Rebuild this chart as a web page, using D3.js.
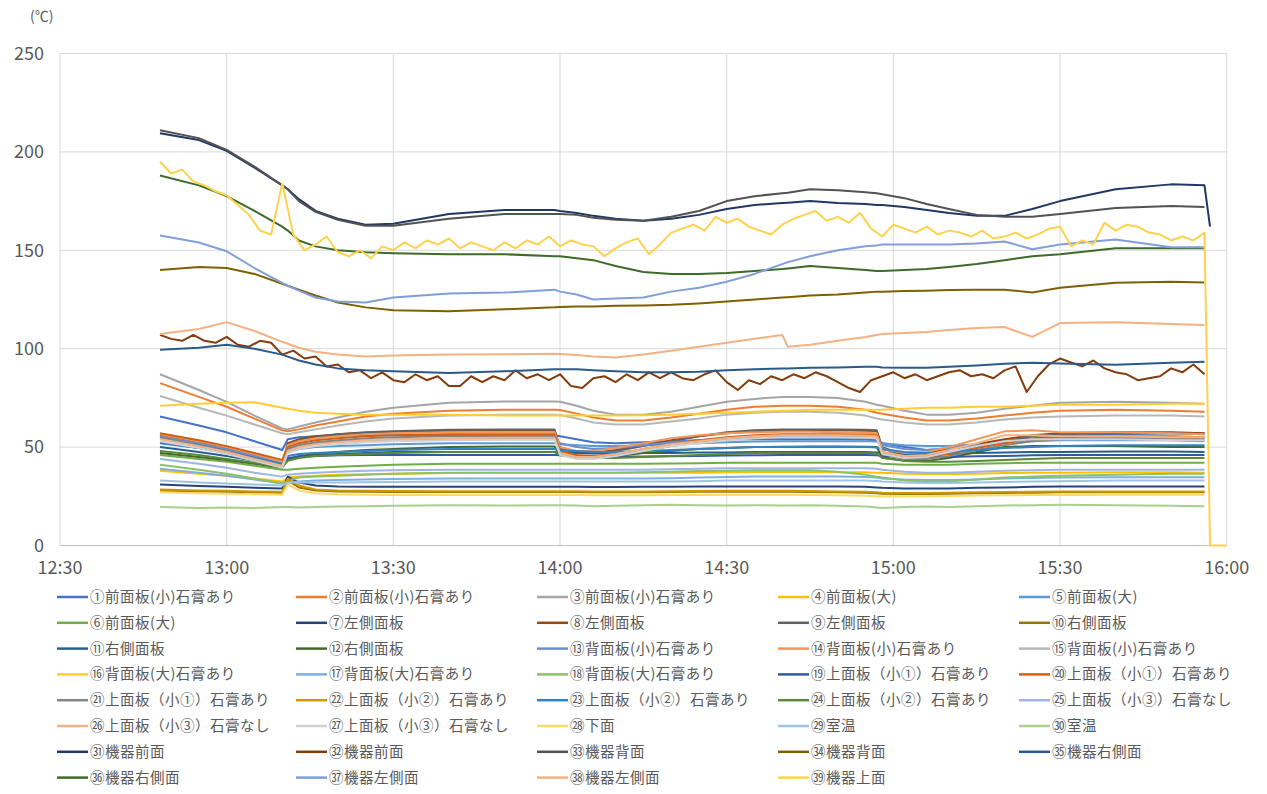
<!DOCTYPE html>
<html><head><meta charset="utf-8">
<script src="https://cdn.jsdelivr.net/npm/d3@7"></script>
<style>
body{margin:0;background:#fff;}
text{font-family:"Noto Sans CJK JP","Noto Sans",sans-serif;}
</style>
</head><body>
<svg id="chart" width="1267" height="794"></svg>
<script>
// ---------- DATA ----------
const coarseTimes = ["12:48","12:55","13:00","13:05","13:10","13:11","13:13","13:16","13:20","13:25","13:30","13:40","13:50","13:59","14:00","14:03","14:06","14:10","14:15","14:20","14:25","14:30","14:35","14:40","14:41","14:45","14:50","14:55","14:57","14:58","15:02","15:06","15:10","15:15","15:20","15:25","15:30","15:40","15:50","15:56","15:57"];
const fineTimes = ["12:48","12:50","12:52","12:54","12:56","12:58",
"13:00","13:02","13:04","13:06","13:08","13:10","13:12","13:14","13:16","13:18","13:20","13:22","13:24","13:26","13:28","13:30","13:32","13:34","13:36","13:38","13:40","13:42","13:44","13:46","13:48","13:50","13:52","13:54","13:56","13:58",
"14:00","14:02","14:04","14:06","14:08","14:10","14:12","14:14","14:16","14:18","14:20","14:22","14:24","14:26","14:28","14:30","14:32","14:34","14:36","14:38","14:40","14:42","14:44","14:46","14:48","14:50","14:52","14:54","14:56","14:58",
"15:00","15:02","15:04","15:06","15:08","15:10","15:12","15:14","15:16","15:18","15:20","15:22","15:24","15:26","15:28","15:30","15:32","15:34","15:36","15:38","15:40","15:42","15:44","15:46","15:48","15:50","15:52","15:54","15:56"];
const fineTail = ["15:57","16:00"];

const xTickLabels = ["12:30","13:00","13:30","14:00","14:30","15:00","15:30","16:00"];
const yTickValues = [0,50,100,150,200,250];

const seriesNames = ["①前面板(小)石膏あり","②前面板(小)石膏あり","③前面板(小)石膏あり","④前面板(大)","⑤前面板(大)",
"⑥前面板(大)","⑦左側面板","⑧左側面板","⑨左側面板","⑩右側面板",
"⑪右側面板","⑫右側面板","⑬背面板(小)石膏あり","⑭背面板(小)石膏あり","⑮背面板(小)石膏あり",
"⑯背面板(大)石膏あり","⑰背面板(大)石膏あり","⑱背面板(大)石膏あり","⑲上面板（小①）石膏あり","⑳上面板（小①）石膏あり",
"㉑上面板（小①）石膏あり","㉒上面板（小②）石膏あり","㉓上面板（小②）石膏あり","㉔上面板（小②）石膏あり","㉕上面板（小③）石膏なし",
"㉖上面板（小③）石膏なし","㉗上面板（小③）石膏なし","㉘下面","㉙室温","㉚室温",
"㉛機器前面","㉜機器前面","㉝機器背面","㉞機器背面","㉟機器右側面",
"㊱機器右側面","㊲機器左側面","㊳機器左側面","㊴機器上面"];

const seriesColors = ["#4472C4","#ED7D31","#A5A5A5","#FFC000","#5B9BD5",
"#70AD47","#264478","#9E480E","#636363","#997300",
"#255E91","#43682B","#698ED0","#F1975A","#B7B7B7",
"#FFCD33","#7CAFDD","#8CC168","#335AA1","#D26012",
"#848484","#CC9A00","#3282C8","#5A8A39","#9DB5E3",
"#F4B183","#D0D0D0","#FFD966","#9DC3E6","#A9D18E",
"#203864","#843C0C","#525252","#7F6000","#2A5A8A",
"#3E6B2A","#809FDA","#F4B183","#FFD24D"];

const s01 = [65.5,61,57.5,53,48.5,54,55,55.5,56,56,56,56,56,56,55.5,54,52.5,52,52.5,53,53.5,54,54,54,54,54,54,53.8,53.5,52,50,48.5,49,51,53,54.5,55.5,56.5,57,57];
const s02 = [82.5,75.5,70.5,64.5,58.5,58,59,61,63,65.5,67,68.5,69,69,68.8,67,65,63.5,63.5,65,67,69,70.5,71,71,71,70.5,69,67.5,67,65,63.5,63.5,64.5,66,67.5,68.5,69,68.5,68];
const s03 = [87,79,73,66,59.5,59,60.5,62.5,65,68,70,72.5,73.2,73.2,73,71,68.5,66.5,66.5,68,70.5,73,74.5,75.5,75.5,75.5,75,73,71.5,71,68.5,66.5,66.5,67.5,69.5,71,72.5,73,72.5,72];
const s04 = [38,36.5,35.5,34,32.5,34.5,35,35.5,36,36.2,36.5,36.8,37,37,37,37,37,37,37,37,37,37.2,37.3,37.3,37.3,37.3,37.2,37.2,37,37,36.5,36.3,36.3,36.5,36.8,37,37,37.2,37.2,37];
const s05 = [56,52.5,49.5,46,42.5,47.5,49,50,50.5,51,51.5,52,52,52,51.5,51,50.5,50.5,51,51.5,52,52.5,52.8,53,53,53,53,53,52.8,52,51,50.5,50.5,51.5,52.5,53,53.5,53.5,53.5,53];
const s06 = [46,44,42.5,40.5,38.5,38.5,39,39.5,40,40.5,41,41.5,41.5,41.5,41.5,41.5,41.5,41.5,41.5,41.7,41.8,42,42,42,42,42,42,42,42,41.5,41,41,41,41.5,41.8,42,42,42,42,42];
const s07 = [31,30.2,29.8,29.3,29,35,32,30.5,30,29.8,29.8,29.8,29.8,29.8,29.8,29.8,29.7,29.7,29.8,29.8,30,30,30,30,30,30,30,29.8,29.5,29.3,29,29,29,29.3,29.5,29.8,30,30,30,30];
const s08 = [56,52,49,45,41,52,54,55.5,56.5,57.3,57.8,58.3,58.5,58.5,49,47,47,48.5,51,53.5,55.5,57,58,58.5,58.5,58.5,58.5,58.3,58.2,49,46.5,47,49,51.5,54,56,57,57.5,57.5,57];
const s09 = [55,51.5,48.5,45,41,51,53.5,55,56.5,57.5,58,58.8,59,59,50,47.5,47,48,50.5,53,55.5,57.5,58.5,59,59,59,59,58.8,58.5,50,46,45.5,47,50,53,55.5,56.5,57,57,56.5];
const s10 = [28,27.5,27.3,27,26.8,33,29.5,28,27.5,27.3,27.2,27.2,27.2,27.2,27.2,27.2,27,27,27,27.2,27.3,27.3,27.3,27.3,27.3,27.2,27,26.8,26.5,26.3,26.2,26.2,26.3,26.5,26.7,26.8,27,27,27,27];
const s11 = [50,47.5,45.5,43,40.5,44,45,46,46.5,47,47.5,47.5,47.5,47.5,47.3,47,46.8,46.8,47,47,47.2,47.3,47.5,47.5,47.5,47.5,47.5,47.5,47.3,47,46.5,46.5,46.5,47,47.3,47.5,47.5,47.8,47.8,47.5];
const s12 = [47,45,43.5,41.5,39.5,44,45.5,46.5,47.5,48.5,49,50,50.3,50.3,46,44.5,44.5,45.5,47,48,49,49.5,50,50.2,50.2,50.3,50.3,50.2,50,45,43,43,44.5,47.5,50,50.5,50.5,50.5,50,50];
const s13 = [55.5,52,49,45.5,42,49,51,52,53,53.5,54,54.3,54.5,54.5,52,50,49,49.5,51,52.5,53.5,54,54.5,55,55,55,55,54.8,54.5,51,49,48.5,49.5,51,52.5,53.5,54,54.5,54.5,54];
const s14 = [56.5,53,50,46.5,42.5,51,53,54.5,55.5,56.5,57,57.5,57.7,57.7,50,48,48,49.5,52,54.5,56,57,57.5,57.8,57.8,57.8,57.5,57.3,57,49,47,47.5,50,54,58,58.5,57.5,57.5,57,56.5];
const s15 = [76,70,66,61.5,57,56.5,57.5,59,61,63,64.5,66,66.5,66.5,66.3,64.5,62.5,61.5,61.5,63,64.5,66.5,67.5,68,68,68,67.5,66,64.5,64,62.5,61.5,61.5,62.5,64,65,65.5,66,66,65.5];
const s16 = [71,72,72.5,72.8,70,69.5,68.5,67.5,67,66.5,66.5,66.5,66,66,66,66,66,66,66.2,66.5,67,67.5,68,68.5,68.5,69,69,69,69,69,69.5,70,70,70.5,70.5,71,71.5,71.5,72,72];
const s17 = [39,37,35.5,33.5,31.5,32,32.5,33,33.3,33.5,33.8,34,34,34,34,34,34,34,34,34.2,34.5,34.8,35,35,35,35,35,34.8,34.5,34,33.5,33.3,33.3,33.5,34,34.3,34.5,34.7,34.7,34.7];
const s18 = [41,38.5,36.5,34,31.5,33,34.5,35,35.5,36,36.5,37,37,37,37,37,37,37,37.2,37.5,37.8,38,38.2,38.3,38.3,38.3,37.5,36,35,34.5,33,32.5,32.5,33.5,34.5,35,35.5,36,36.5,36.5];
const s19 = [52.5,49.5,47,44,41,44.5,45,45.5,45.8,46,46,46,46,46,45.8,45.5,45.3,45.2,45.2,45.3,45.5,45.7,45.8,46,46,46,46,46,45.8,45.5,45,45,45,45.3,45.5,45.8,46,46,46,46];
const s20 = [57,53.5,50.5,47,43.5,50,52,53.5,54.5,55.5,56,56.5,56.5,56.5,48,46,45.5,46.5,49,51.5,53.5,55,56,56.5,56.5,56.5,56.5,56.3,56,47.5,45,45,46.5,49.5,52,54,55,55.5,55.5,55];
const s21 = [55,51,48,44,40,49,51,52.5,53.5,54.5,55,55.5,55.7,55.7,47,45,44.5,45.5,48,50.5,52.5,54,55,55.5,55.5,55.5,55.5,55.3,55,46.5,44,44,45.5,48.5,51,53,54,54.5,54.5,54];
const s22 = [28.5,28,27.8,27.5,27.3,34,30.5,28.5,28,27.8,27.7,27.6,27.6,27.6,27.6,27.6,27.5,27.5,27.5,27.6,27.7,27.8,27.8,27.8,27.8,27.7,27.5,27.3,27,26.8,26.7,26.7,26.8,27,27.2,27.3,27.5,27.5,27.5,27.5];
const s23 = [52,49.5,47,44.5,41.5,45.5,46.5,47,47.5,48,48.5,49,49,49,48.5,48,47.5,47.5,48,48.5,49,49.5,50,50,50,50,50,50,49.8,49,47.5,47,47.5,48.5,49.5,50,50.5,51,51,51];
const s24 = [48,46,44,42,40,43,44.5,45.5,46,46.5,47,47.5,47.5,47.5,46,45,44.5,44.5,45,45.5,46,46.5,47,47,47,47,47,47,46.8,44.5,43,42.5,42.5,43,43.5,44,44.5,44.5,44.5,44.5];
const s25 = [44,41.5,39.5,37,35,36,36.5,37,37.5,38,38.3,38.5,38.5,38.5,38.5,38.5,38.5,38.5,38.5,38.7,39,39.2,39.3,39.3,39.3,39.3,39.3,39.2,39,38.5,37.5,37,37,37.5,38,38.3,38.5,38.5,38.5,38.5];
const s26 = [54,50.5,47.5,44,40.5,48,50,51.5,52.5,53.5,54,54.5,54.7,54.7,47,45,45,46.5,49,51.5,53,54.5,55.5,56,56,56,56,55.8,55.5,47.5,45.5,46,48.5,52,56,56,55.5,55.5,55,55];
const s27 = [53,49.5,46.5,43,39.5,47,49,50.5,51.5,52.5,53,53.5,53.7,53.7,46,44,44,45.5,48,50.5,52,53.5,54.5,55,55,55,55,54.8,54.5,46.5,44.5,45,47.5,50.5,53,54,54,54,53.5,53.5];
const s28 = [27,26.5,26.3,26,25.8,31,28,26.5,26,25.8,25.7,25.6,25.6,25.6,25.6,25.6,25.5,25.5,25.5,25.6,25.7,25.8,25.8,25.8,25.8,25.7,25.5,25.3,25,25,25,25,25.2,25.4,25.5,25.6,25.7,25.8,25.8,25.8];
const s29 = [33,32,31.5,31,30.5,32,32,32,32,32.2,32.3,32.5,32.5,32.5,32.5,32.5,32.5,32.5,32.5,32.5,32.7,33,33,33,33,33,33,33,32.8,32.5,32,31.8,31.8,32,32.3,32.5,32.7,33,33,33];
const s30 = [19.5,19,19.3,19,19.5,19.5,19.3,19.5,19.8,20,20.2,20.5,20.3,20.5,20.5,20.3,20,20.2,20.5,20.7,20.5,20.3,20.5,20.3,20.3,20.5,20.2,19.8,19.3,19,19.5,19.8,19.5,20,20.3,20.5,20.7,20.5,20.2,20];
const s31 = [209.5,206,200.5,192,183,181,176,170,166,163,163.5,168.5,170.5,170.5,170,169,167.5,166,165,166,168,171,173,174,174.2,175,174,173.5,173,173,172,170.5,169,167.5,167.5,171,175,181,183.5,183,162];
const s32 = [107,105,104,107,104,103,
106,102,101,104,103,97,99,95,96,91,92,88,89,85,88,84,83,87,84,86,81,81,86,83,86,84,89,85,87,84,
87,81,80,85,86,83,87,84,88,85,88,85,84,87,89,83,79,84,82,86,84,87,85,88,86,83,80,78,84,86,
88,85,87,84,86,88,89,86,87,85,89,91,78,86,92,95,93,91,94,90,88,87,84,85,86,90,88,92,87];
const s33 = [211,207,201,192.5,183,181,175,169.5,165.5,162.5,162.5,166,168.5,168.5,168.5,168,166.5,165.5,165,167,170,175,177.5,179,179.3,181,180.5,179.5,179,178.5,176.5,173.5,171,168,167,167,168.5,171.5,172.5,172];
const s34 = [140,141.5,141,138,133,132,130,127,123.5,121,119.5,119,120,121,121.2,121.5,121.5,121.8,122,122.3,123,124,125,126,126.2,127,127.5,128.5,129,129,129.3,129.5,129.8,130,130,128.6,131,133.5,134,133.7];
const s35 = [99.5,100.5,102,100,97,96,94,92,90,89,88.5,87.7,88.5,89.5,89.5,89.5,89,88.5,88,88,88.3,89,89.5,90,90,90.3,90.5,90.8,90.8,90.5,90.3,90.3,90.8,91.5,92.3,92.9,92.5,91.8,92.8,93.4];
const s36 = [188,183,177.5,170,162,160,155,152,150,149,148.5,148,148,147,147,146,145,142,139,138,138,138.5,139.5,140.5,140.8,142,141,140,139.5,139.5,140,140.5,141.5,143,145,147,148,151,151,151];
const s37 = [157.5,154,149.5,141,133.5,132,129.5,126,124,123.5,126,128,128.5,130,129,127.5,125,125.5,126,129,131,134,138,143,144,147,150,152,152.5,153,153,153,153,153.5,154.5,150.5,153,155.5,151.5,151.5];
const s38 = [107.5,110,113.5,109,103.5,102.5,100.5,98.5,97,96,96.5,97,97.2,97.4,97.3,96.8,96,95.5,97,99,101,103,105,107,101,102,104,106,107,107.5,108,108.5,109.5,110.5,111,106,113,113.5,112.5,112];
const s39 = [195,189,191,185,183,180,
178,173,168,160,158,184,158,150,153,157,149,147,150,146,152,150,154,151,155,153,156,151,154,152,150,154,151,155,153,157,
152,155,153,152,147,151,154,156,148,153,159,161,163,160,167,164,166,162,160,158,163,166,168,170,165,167,164,169,161,157,
163,161,159,162,158,160,159,157,160,156,157,159,156,158,161,162,152,155,153,164,160,163,162,159,158,155,157,155,159,
0,0];

const seriesValues = [s01,s02,s03,s04,s05,s06,s07,s08,s09,s10,s11,s12,s13,s14,s15,s16,s17,s18,s19,s20,
s21,s22,s23,s24,s25,s26,s27,s28,s29,s30,s31,s32,s33,s34,s35,s36,s37,s38,s39];
const fineSeriesIndex = [31, 38];

// ---------- CHART ----------
const svg = d3.select("#chart");
const parse = d3.timeParse("%H:%M");
const plot = {left:60, right:1226.7, top:53.5, bottom:545.5};

const x = d3.scaleTime().domain([parse("12:30"), parse("16:00")]).range([plot.left, plot.right]);
const y = d3.scaleLinear().domain([0,250]).range([plot.bottom, plot.top]);

const textColor = "#595959";
const gridColor = "#d9d9d9";

// horizontal gridlines
svg.append("g").selectAll("line").data(yTickValues.filter(v => v > 0)).join("line")
  .attr("x1", plot.left).attr("x2", plot.right)
  .attr("y1", d => y(d)).attr("y2", d => y(d))
  .attr("stroke", gridColor).attr("stroke-width", 1);
// vertical gridlines
svg.append("g").selectAll("line").data(xTickLabels).join("line")
  .attr("x1", d => x(parse(d))).attr("x2", d => x(parse(d)))
  .attr("y1", plot.top).attr("y2", plot.bottom)
  .attr("stroke", gridColor).attr("stroke-width", 1);
// baseline
svg.append("line").attr("x1", plot.left).attr("x2", plot.right)
  .attr("y1", y(0)).attr("y2", y(0)).attr("stroke", "#bfbfbf").attr("stroke-width", 1.2);

// y tick labels
svg.append("g").selectAll("text").data(yTickValues).join("text")
  .attr("x", 44).attr("y", d => y(d)).attr("dy", "0.35em")
  .attr("text-anchor", "end").attr("font-size", 18).attr("fill", textColor)
  .text(d => d);
// x tick labels
svg.append("g").selectAll("text").data(xTickLabels).join("text")
  .attr("x", d => x(parse(d))).attr("y", 568).attr("dy", "0.35em")
  .attr("text-anchor", "middle").attr("font-size", 18).attr("fill", textColor)
  .text(d => d);
// unit
svg.append("text").attr("x", 30).attr("y", 21).attr("font-size", 14).attr("fill", textColor).text("(℃)");

// lines
const line = d3.line().x(d => x(d.t)).y(d => y(d.v));
seriesValues.forEach((vals, i) => {
  let grid;
  if (i === 38) grid = fineTimes.concat(fineTail);
  else if (fineSeriesIndex.includes(i)) grid = fineTimes;
  else grid = coarseTimes;
  const pts = vals.map((v, k) => ({t: parse(grid[k]), v: v}));
  svg.append("path").datum(pts)
    .attr("fill", "none").attr("stroke", seriesColors[i])
    .attr("stroke-width", 2).attr("stroke-linejoin", "round")
    .attr("d", line);
});

// legend
const colX = [57, 296, 537, 778, 1019];
const rowY0 = 597, rowH = 25.8;
const lg = svg.append("g");
seriesNames.forEach((name, i) => {
  const c = i % 5, r = Math.floor(i / 5);
  const gx = colX[c], gy = rowY0 + r * rowH;
  lg.append("line").attr("x1", gx).attr("x2", gx + 31).attr("y1", gy).attr("y2", gy)
    .attr("stroke", seriesColors[i]).attr("stroke-width", 2.5);
  lg.append("text").attr("x", gx + 33).attr("y", gy).attr("dy", "0.35em")
    .attr("font-size", 14.5).attr("letter-spacing", 0.5).attr("fill", textColor).text(name);
});
</script>
</body></html>
